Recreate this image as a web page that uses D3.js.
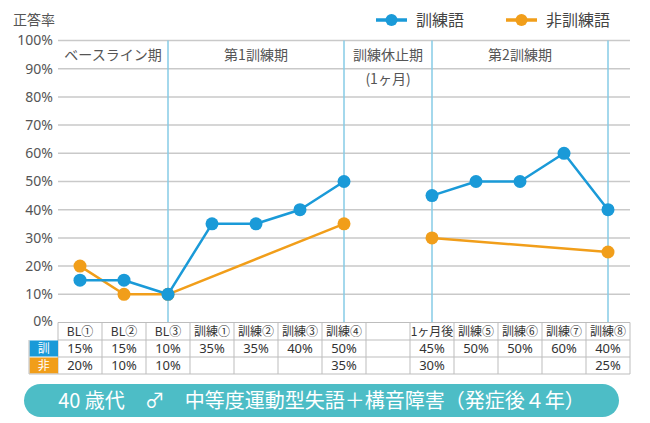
<!DOCTYPE html>
<html><head><meta charset="utf-8">
<script src="https://cdn.jsdelivr.net/npm/d3@7"></script>
<style>
html,body{margin:0;padding:0;background:#fff;}
svg{display:block;font-family:"Noto Sans CJK JP","Noto Sans",sans-serif;}
</style></head><body>
<svg id="c" width="650" height="423"></svg>
<script>
const categories = ["BL①","BL②","BL③","訓練①","訓練②","訓練③","訓練④","","1ヶ月後","訓練⑤","訓練⑥","訓練⑦","訓練⑧"];
const trained   = [15,15,10,35,35,40,50,null,45,50,50,60,40];
const untrained = [20,10,10,null,null,null,35,null,30,null,null,null,25];
const yTicks = [0,10,20,30,40,50,60,70,80,90,100];
const phaseBounds = [2,6,8,12];
const phases = [
  {label:["ベースライン期"], from:-1, to:2},
  {label:["第1訓練期"], from:2, to:6},
  {label:["訓練休止期","(1ヶ月)"], from:6, to:8},
  {label:["第2訓練期"], from:8, to:12}
];
const segments = [[0,6],[8,12]];
const seriesNames = ["訓練語","非訓練語"];
const rowLabels = ["訓","非"];
const footer = "40 歳代　♂　中等度運動型失語＋構音障害（発症後４年）";

(function(){
const BLUE="#1a9ad8", ORANGE="#f19e1a", VLINE="#86cbe6", GRID="#c9c9c9", TXT="#555";
const svg = d3.select("#c");
const pl=58, pr=630, pt=40.5, pb=322.5;
const x = d3.scaleBand().domain(d3.range(categories.length)).range([pl,pr]).padding(0);
const cx = i => x(i)+x.bandwidth()/2;
const y = d3.scaleLinear().domain([0,100]).range([pb,pt]);

svg.append("g").selectAll("line").data(yTicks.filter(d=>d>0)).join("line")
  .attr("x1",pl).attr("x2",pr).attr("y1",d=>y(d)).attr("y2",d=>y(d))
  .attr("stroke",GRID).attr("stroke-width",1.5);

const yAxis = d3.axisLeft(y).tickValues(yTicks).tickSize(0).tickPadding(5).tickFormat(d=>d+"%");
const ya = svg.append("g").attr("transform",`translate(${pl},0)`).call(yAxis);
ya.select(".domain").remove();
ya.selectAll("text").attr("fill",TXT).style("font-size","14px").style("font-family","'Noto Sans','Noto Sans CJK JP',sans-serif");
ya.selectAll(".tick").filter(d=>d===0).select("text").attr("dy","0.2em");

svg.append("text").attr("x",13).attr("y",25).attr("fill",TXT).style("font-size","14px").text("正答率");

svg.append("g").selectAll("line").data(phaseBounds).join("line")
  .attr("x1",d=>cx(d)).attr("x2",d=>cx(d)).attr("y1",pt).attr("y2",pb)
  .attr("stroke",VLINE).attr("stroke-width",1.5);

phases.forEach(p=>{
  const x0 = p.from<0 ? pl : cx(p.from);
  const x1 = cx(p.to);
  const t = svg.append("text").attr("x",(x0+x1)/2).attr("y",60).attr("text-anchor","middle")
    .attr("fill",TXT).style("font-size","14px");
  p.label.forEach((l,i)=>t.append("tspan").attr("x",(x0+x1)/2).attr("dy",i?24:0).text(l));
});

const line = d3.line().x(d=>cx(d.i)).y(d=>y(d.v));
function drawSeries(vals,color){
  segments.forEach(([a,b])=>{
    const pts = d3.range(a,b+1).filter(i=>vals[i]!=null).map(i=>({i,v:vals[i]}));
    svg.append("path").datum(pts).attr("d",line).attr("fill","none").attr("stroke",color).attr("stroke-width",2.5).attr("stroke-linejoin","round");
  });
  svg.append("g").selectAll("circle").data(vals.map((v,i)=>({i,v})).filter(d=>d.v!=null)).join("circle")
    .attr("cx",d=>cx(d.i)).attr("cy",d=>y(d.v)).attr("r",6.5).attr("fill",color);
}
drawSeries(untrained,ORANGE);
drawSeries(trained,BLUE);

[[BLUE,seriesNames[0],376],[ORANGE,seriesNames[1],506]].forEach(([c,n,lx])=>{
  const g = svg.append("g");
  g.append("line").attr("x1",lx).attr("x2",lx+31).attr("y1",20).attr("y2",20).attr("stroke",c).attr("stroke-width",3.5);
  g.append("circle").attr("cx",lx+15.5).attr("cy",20).attr("r",6).attr("fill",c);
  g.append("text").attr("x",lx+40).attr("y",26).attr("fill","#444").style("font-size","16px").text(n);
});

const rowY=[322.5,340,357,374];
const tg = svg.append("g");
const BORDER="#bdbdbd";
rowY.forEach(ry=>tg.append("line").attr("x1",pl).attr("x2",pr).attr("y1",ry).attr("y2",ry).attr("stroke",BORDER).attr("stroke-width",1));
d3.range(categories.length+1).forEach(i=>{
  const xx = i<categories.length ? x(i) : pr;
  tg.append("line").attr("x1",xx).attr("x2",xx).attr("y1",rowY[0]).attr("y2",rowY[3]).attr("stroke",BORDER).attr("stroke-width",1);
});
[[BLUE,rowLabels[0],1],[ORANGE,rowLabels[1],2]].forEach(([c,l,r])=>{
  tg.append("rect").attr("x",29.5).attr("y",rowY[r]+0.5).attr("width",pl-29.5).attr("height",rowY[r+1]-rowY[r]-1).attr("fill",c);
  tg.append("text").attr("x",(29.5+pl)/2).attr("y",(rowY[r]+rowY[r+1])/2+4.5).attr("text-anchor","middle")
    .attr("fill","#fff").style("font-size","12px").text(l);
});
tg.append("line").attr("x1",29).attr("x2",pl).attr("y1",rowY[3]).attr("y2",rowY[3]).attr("stroke",BORDER);
tg.append("line").attr("x1",29).attr("x2",29).attr("y1",rowY[1]).attr("y2",rowY[3]).attr("stroke",BORDER);
tg.selectAll("text.h").data(categories).join("text").attr("class","h")
  .attr("x",(d,i)=>cx(i)).attr("y",(rowY[0]+rowY[1])/2+4.5).attr("text-anchor","middle")
  .attr("fill","#333").style("font-size","12px").text(d=>d);
[trained,untrained].forEach((vals,r)=>{
  tg.append("g").selectAll("text").data(vals).join("text")
    .attr("x",(d,i)=>cx(i)).attr("y",(rowY[r+1]+rowY[r+2])/2+4.5).attr("text-anchor","middle")
    .attr("fill","#333").style("font-size","13px").style("font-family","'Noto Sans','Noto Sans CJK JP',sans-serif")
    .text(d=>d==null?"":d+"%");
});

svg.append("rect").attr("x",24).attr("y",384).attr("width",595).attr("height",33).attr("rx",16.5).attr("fill","#4dbdc6");
svg.append("text").attr("x",321.5).attr("y",408).attr("text-anchor","middle").attr("fill","#fff")
  .style("font-size","20px").text(footer);
})();
</script>
</body></html>
